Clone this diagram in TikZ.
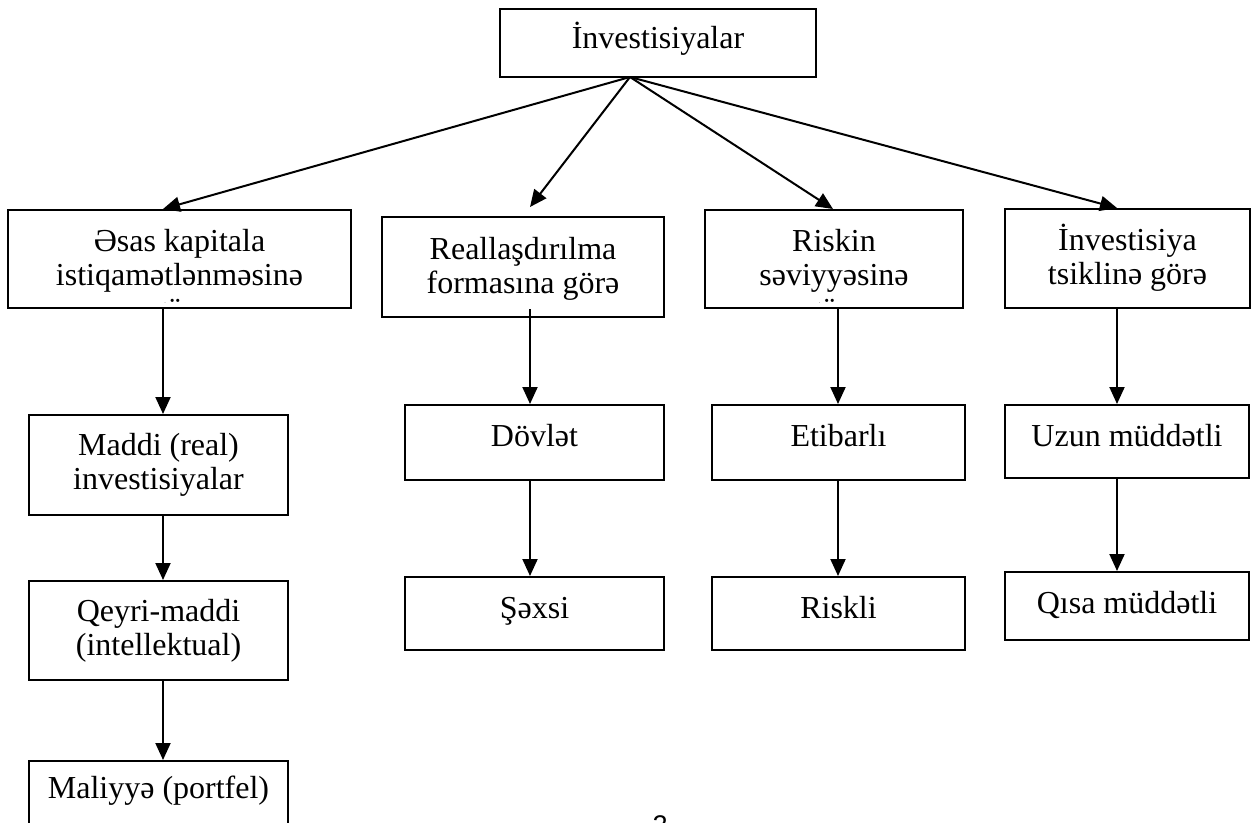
\documentclass[tikz,border=0pt]{standalone}
\usepackage{fontspec}
\setmainfont{Liberation Serif}
\newfontfamily\pgfont{Liberation Sans}
\usetikzlibrary{arrows.meta}
\newcommand\mystrut{\rule{0pt}{30pt}}
\begin{document}
\begin{tikzpicture}[x=1pt,y=-1pt,
  box/.style={draw, line width=2pt, rectangle, inner sep=0pt},
  txt/.style={font=\fontsize{32}{34}\selectfont, align=center, inner sep=0pt, anchor=north},
  arr/.style={line width=2pt, -{Triangle[length=17pt,width=15pt]}}]
\useasboundingbox (0,0) rectangle (1255,822);
\fill[white] (0,0) rectangle (1255,822);

% boxes
\node[box, minimum width=316, minimum height=68] (T) at (658,43) {};
\node[box, minimum width=343, minimum height=98] (A) at (179.5,259) {};
\node[box, minimum width=282, minimum height=100] (B) at (523,267) {};
\node[box, minimum width=258, minimum height=98] (C) at (834,259) {};
\node[box, minimum width=245, minimum height=99] (D) at (1127.5,258.5) {};
\node[box, minimum width=259, minimum height=100] (A1) at (158.5,465) {};
\node[box, minimum width=259, minimum height=99] (A2) at (158.5,630.5) {};
\node[box, minimum width=259, minimum height=100] (A3) at (158.5,811) {};
\node[box, minimum width=259, minimum height=75] (B1) at (534.5,442.5) {};
\node[box, minimum width=259, minimum height=73] (B2) at (534.5,613.5) {};
\node[box, minimum width=253, minimum height=75] (C1) at (838.5,442.5) {};
\node[box, minimum width=253, minimum height=73] (C2) at (838.5,613.5) {};
\node[box, minimum width=244, minimum height=73] (D1) at (1127,441.5) {};
\node[box, minimum width=244, minimum height=68] (D2) at (1127,606) {};

% texts
\node[txt] (Tt) at (658,18) {\mystrut İnvestisiyalar};
\begin{scope}
\clip ([yshift=6.5pt]A.south west) rectangle (A.north east);
\node[txt] (At) at (179.5,221) {\mystrut Əsas kapitala\\istiqamətlənməsinə\\görə};
\end{scope}
\node[txt] (Bt) at (523,229) {\mystrut Reallaşdırılma\\formasına görə};
\begin{scope}
\clip ([yshift=6.5pt]C.south west) rectangle (C.north east);
\node[txt] (Ct) at (834,221) {\mystrut Riskin\\səviyyəsinə\\görə};
\end{scope}
\node[txt] (Dt) at (1127.5,220) {\mystrut İnvestisiya\\tsiklinə görə};
\node[txt] (A1t) at (158.5,425) {\mystrut Maddi (real)\\investisiyalar};
\node[txt] (A2t) at (158.5,591) {\mystrut Qeyri-maddi\\(intellektual)};
\node[txt] (A3t) at (158.5,768) {\mystrut Maliyyə (portfel)};
\node[txt] (B1t) at (534.5,416) {\mystrut Dövlət};
\node[txt] (B2t) at (534.5,588) {\mystrut Şəxsi};
\node[txt] (C1t) at (838.5,416) {\mystrut Etibarlı};
\node[txt] (C2t) at (838.5,588) {\mystrut Riskli};
\node[txt] (D1t) at (1127,416) {\mystrut Uzun müddətli};
\node[txt] (D2t) at (1127,583) {\mystrut Qısa müddətli};

\node[font=\pgfont\fontsize{27}{30}\selectfont, anchor=base, inner sep=0pt] (pg) at (660,834) {2};

% connectors
\coordinate (To) at (630,77);
\draw[arr] (To) -- ([xshift=-16.5pt]A.north);
\draw[arr] (To) -- ([xshift=7pt,yshift=9pt]B.north);
\draw[arr] (To) -- ([xshift=-1pt]C.north);
\draw[arr] (To) -- ([xshift=-10.5pt]D.north);

\coordinate (ax) at (163,0);
\coordinate (bx) at (530,0);
\coordinate (cx) at (838,0);
\coordinate (dx) at (1117,0);
\draw[arr] (A.south -| ax) -- (A1.north -| ax);
\draw[arr] (A1.south -| ax) -- (A2.north -| ax);
\draw[arr] (A2.south -| ax) -- (A3.north -| ax);
\draw[arr] ([yshift=9pt]B.south -| bx) -- (B1.north -| bx);
\draw[arr] (B1.south -| bx) -- (B2.north -| bx);
\draw[arr] (C.south -| cx) -- (C1.north -| cx);
\draw[arr] (C1.south -| cx) -- (C2.north -| cx);
\draw[arr] (D.south -| dx) -- (D1.north -| dx);
\draw[arr] (D1.south -| dx) -- (D2.north -| dx);
\end{tikzpicture}
\end{document}
